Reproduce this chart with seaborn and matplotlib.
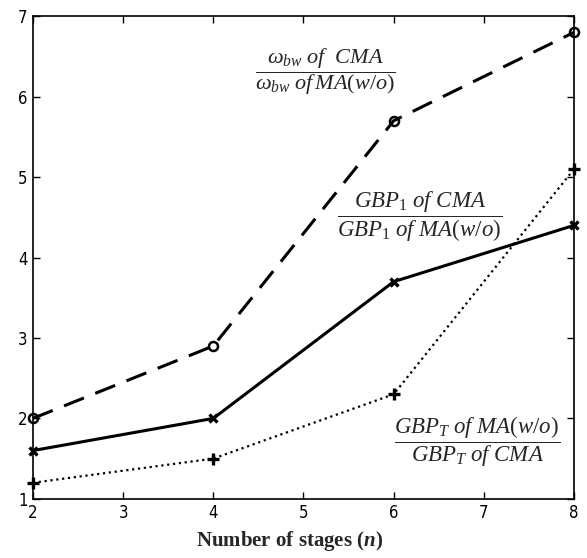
import matplotlib
matplotlib.use("Agg")
import matplotlib.pyplot as plt
import seaborn as sns
import pandas as pd

stages = [2, 4, 6, 8]
omega_ratio = [2.0, 2.9, 5.7, 6.8]
gbp1_ratio = [1.6, 2.0, 3.7, 4.4]
gbpT_ratio = [1.2, 1.5, 2.3, 5.1]

xticks = [2, 3, 4, 5, 6, 7, 8]
yticks = [1, 2, 3, 4, 5, 6, 7]

sns.set_style("white")
plt.rcParams["font.family"] = ["DejaVu Sans"]
plt.rcParams["font.stretch"] = "condensed"
plt.rcParams["mathtext.fontset"] = "custom"
plt.rcParams["mathtext.rm"] = "Liberation Serif"
plt.rcParams["mathtext.it"] = "Liberation Serif:italic"
plt.rcParams["mathtext.bf"] = "Liberation Serif:bold"
plt.rcParams["mathtext.bfit"] = "Liberation Serif:italic:bold"

fig = plt.figure(figsize=(5.87, 5.58), dpi=100)
ax = fig.add_axes([0.056, 0.106, 0.922, 0.865])

df1 = pd.DataFrame({"x": stages, "y": omega_ratio})
df2 = pd.DataFrame({"x": stages, "y": gbp1_ratio})
df3 = pd.DataFrame({"x": stages, "y": gbpT_ratio})

sns.lineplot(data=df1, x="x", y="y", ax=ax, color="black", linewidth=2.2,
             marker="o", markersize=6.5, markerfacecolor="none",
             markeredgecolor="black", markeredgewidth=1.8, clip_on=False)
ax.lines[-1].set_dashes([7, 4])
sns.lineplot(data=df2, x="x", y="y", ax=ax, color="black", linewidth=2.2,
             marker="x", markersize=6, markeredgewidth=2.4, markeredgecolor="black",
             clip_on=False)
sns.lineplot(data=df3, x="x", y="y", ax=ax, color="black", linewidth=1.6,
             linestyle=":", marker="+", markersize=8, markeredgewidth=2.4,
             markeredgecolor="black", clip_on=False)

ax.set_xlim(2, 8)
ax.set_ylim(1, 7)
ax.set_xticks(xticks)
ax.set_yticks(yticks)
ax.set_xticklabels([str(v) for v in xticks], fontsize=12)
ax.set_yticklabels([str(v) for v in yticks], fontsize=12)
ax.tick_params(direction="in", length=5, width=1, top=True, right=True,
               bottom=True, left=True, pad=4, colors="black")
ax.set_ylabel("")
ax.set_xlabel("")
for s in ax.spines.values():
    s.set_color("black")
    s.set_linewidth(1.2)

fig.text(290 / 587, 1 - 546 / 558, r"Number of stages ($\mathbfit{n}$)",
         fontsize=15, fontweight="bold", family="Liberation Serif",
         ha="center", va="baseline")

ax.text(0.541, 0.885,
        r"$\dfrac{\omega_{bw}\ of\ \ CMA}{\omega_{bw}\ of\,MA(w/o)}$",
        transform=ax.transAxes, fontsize=16, ha="center", va="center")
ax.text(0.715, 0.585,
        r"$\dfrac{GBP_1\ of\ CMA}{GBP_1\ of\ MA(w/o)}$",
        transform=ax.transAxes, fontsize=16.5, ha="center", va="center")
ax.text(0.82, 0.118,
        r"$\dfrac{GBP_T\ of\ MA(w/o)}{GBP_T\ of\ CMA}$",
        transform=ax.transAxes, fontsize=16.5, ha="center", va="center")

fig.savefig("out.png", dpi=100)
